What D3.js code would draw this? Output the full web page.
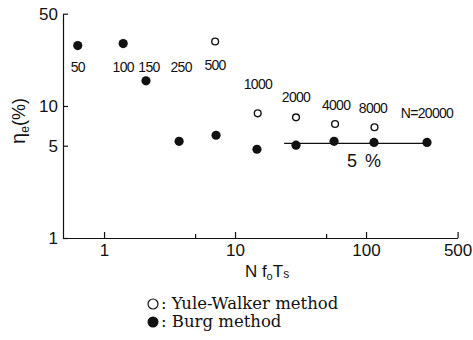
<!DOCTYPE html>
<html>
<head>
<meta charset="utf-8">
<script src="https://cdn.jsdelivr.net/npm/d3@7"></script>
<style>
  html, body { margin: 0; padding: 0; background: #fff; }
  svg { display: block; }
  text { fill: #111; }
</style>
</head>
<body>
<svg id="chart" width="473" height="340"></svg>
<script>
// ---- data ----
const nValues     = [50, 100, 150, 250, 500, 1000, 2000, 4000, 8000, 20000];
const burgX       = [0.63, 1.40, 2.09, 3.74, 7.16, 14.7, 29.2, 57, 115, 292];
const burgY       = [28.7, 29.7, 15.5, 5.4, 6.0, 4.7, 5.05, 5.4, 5.3, 5.3];
const yuleN       = [500, 1000, 2000, 4000, 8000];
const yuleX       = [7.05, 14.9, 29.2, 58, 116];
const yuleY       = [30.8, 8.8, 8.2, 7.3, 6.9];
const nLabels     = ["50", "100", "150", "250", "500", "1000", "2000", "4000", "8000", "N=20000"];
const refLineX    = [23.7, 292];
const refLineY    = 5.2;
const refLabel    = "5 %";
const xTicks      = [1, 10, 100, 500];
const xMinorTicks = [5, 50];
const yTicks      = [1, 5, 10, 50];
const legendItems = ["Yule-Walker method", "Burg method"];

// ---- layout / style ----
const ink = "#111";
const sans = "Liberation Sans, Arial, sans-serif";
const svg = d3.select("#chart");
const x = d3.scaleLog().domain([0.486, 500]).range([63, 457.6]);
const y = d3.scaleLog().domain([1, 50]).range([238, 13.7]);

// label placement (pixels)
const labelDx = [0, 0, 3, 2, -1, 1, 0, 2, -1, 0];
const labelY  = [72, 72, 72, 72, 70, 89, 102, 110, 113, 118];

// ---- axes ----
const xAxis = d3.axisBottom(x).tickValues(xTicks).tickFormat(d3.format("d"))
  .tickSizeInner(-6).tickSizeOuter(0).tickPadding(6);
const gx = svg.append("g").attr("transform", `translate(0,${y(1)})`).call(xAxis);
gx.select(".domain").attr("stroke", ink).attr("stroke-width", 1.2);
gx.selectAll(".tick line").attr("stroke", ink).attr("stroke-width", 1.2);
gx.selectAll(".tick text").attr("font-family", sans)
  .attr("font-size", 17).attr("fill", ink).attr("dy", "0.71em");
// minor ticks
svg.append("g").selectAll("line").data(xMinorTicks).join("line")
  .attr("x1", d => x(d)).attr("x2", d => x(d))
  .attr("y1", y(1)).attr("y2", y(1) - 4)
  .attr("stroke", ink).attr("stroke-width", 1.2);

const yAxis = d3.axisLeft(y).tickValues(yTicks).tickFormat(d3.format("d"))
  .tickSizeInner(-5).tickSizeOuter(0).tickPadding(5);
const gy = svg.append("g").attr("transform", `translate(${x(0.486)},0)`).call(yAxis);
gy.select(".domain").attr("stroke", ink).attr("stroke-width", 1.2);
gy.selectAll(".tick line").attr("stroke", ink).attr("stroke-width", 1.2);
gy.selectAll(".tick text").attr("font-family", sans)
  .attr("font-size", 17).attr("fill", ink);

// ---- axis titles ----
const yt = svg.append("text")
  .attr("transform", `translate(25,121) rotate(-90)`)
  .attr("text-anchor", "middle")
  .attr("font-family", sans)
  .attr("font-size", 18);
yt.append("tspan").attr("font-size", 20).text("η");
yt.append("tspan").attr("font-size", 12).attr("dy", 4).text("e");
yt.append("tspan").attr("dy", -4).text("(%)");

const xt = svg.append("text")
  .attr("x", 267).attr("y", 277)
  .attr("text-anchor", "middle")
  .attr("font-family", sans)
  .attr("font-size", 17);
xt.append("tspan").text("N f");
xt.append("tspan").attr("font-size", 11).attr("dy", 3).text("o");
xt.append("tspan").attr("dy", -3).text("T");
xt.append("tspan").attr("font-size", 12).attr("dy", 1).text("s");

// ---- reference line ----
svg.append("line")
  .attr("x1", x(refLineX[0])).attr("x2", x(refLineX[1]))
  .attr("y1", y(refLineY)).attr("y2", y(refLineY))
  .attr("stroke", ink).attr("stroke-width", 1.3);
svg.append("text")
  .attr("x", 364).attr("y", 167)
  .attr("text-anchor", "middle")
  .attr("font-family", sans)
  .attr("font-size", 18)
  .attr("word-spacing", 3)
  .text(refLabel);

// ---- points ----
const burg = burgX.map((d, i) => ({x: d, y: burgY[i]}));
const yule = yuleX.map((d, i) => ({x: d, y: yuleY[i]}));
svg.append("g").selectAll("circle").data(burg).join("circle")
  .attr("cx", d => x(d.x)).attr("cy", d => y(d.y)).attr("r", 4.6)
  .attr("fill", ink);
svg.append("g").selectAll("circle").data(yule).join("circle")
  .attr("cx", d => x(d.x)).attr("cy", d => y(d.y)).attr("r", 3.4)
  .attr("fill", "#fff").attr("stroke", ink).attr("stroke-width", 1.4);

// ---- N labels ----
svg.append("g").selectAll("text").data(nLabels).join("text")
  .attr("x", (d, i) => x(burgX[i]) + labelDx[i])
  .attr("y", (d, i) => labelY[i])
  .attr("text-anchor", "middle")
  .attr("font-family", sans)
  .attr("font-size", 14)
  .attr("letter-spacing", -0.7)
  .text(d => d);

// ---- legend ----
const lg = svg.append("g").attr("font-family", "DejaVu Serif, Liberation Serif, serif").attr("font-size", 16.5);
legendItems.forEach((t, i) => {
  const cy = 304 + i * 18;
  lg.append("circle").attr("cx", 153).attr("cy", cy).attr("r", i === 0 ? 5 : 5.5)
    .attr("fill", i === 0 ? "#fff" : ink).attr("stroke", ink).attr("stroke-width", i === 0 ? 1.2 : 0);
  lg.append("text").attr("x", 161).attr("y", cy + 5).text(": " + t);
});
</script>
</body>
</html>
